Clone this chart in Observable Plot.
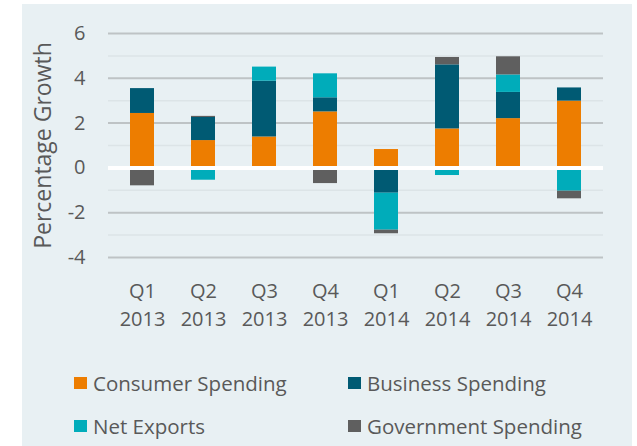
<!DOCTYPE html>
<html>
<head>
<meta charset="utf-8">
<script src="https://cdn.jsdelivr.net/npm/d3@7"></script>
<script src="https://cdn.jsdelivr.net/npm/@observablehq/plot@0.6"></script>
<style>
  body { margin: 0; background: #ffffff; font-family: "Open Sans", sans-serif; }
  #wrap { position: relative; width: 637px; height: 446px; overflow: hidden; }
  #panel { position: absolute; left: 22px; top: 4px; width: 610px; height: 442px; background: #e8f0f3; }
  #chart { position: absolute; left: 0; top: 0; }
  .leg { position: absolute; font-size: 20.5px; color: #595959; display: flex; align-items: center; white-space: nowrap; }
  .sw { width: 12.5px; height: 12.5px; margin-right: 6.5px; display: inline-block; }
</style>
</head>
<body>
<div id="wrap">
  <div id="panel"></div>
  <div id="chart"></div>
</div>
<script>
const quarters = ["Q1 2013","Q2 2013","Q3 2013","Q4 2013","Q1 2014","Q2 2014","Q3 2014","Q4 2014"];
const seriesNames = ["Consumer Spending","Business Spending","Net Exports","Government Spending"];
const seriesColors = ["#ed7d00","#005a73","#00acba","#5f5f5f"];
const consumer   = [2.43, 1.22, 1.38, 2.50, 0.82, 1.74, 2.20, 2.98];
const business   = [1.11, 1.03, 2.49, 0.63, -1.13, 2.86, 1.17, 0.59];
const netExports = [0.00, -0.55, 0.63, 1.07, -1.65, -0.34, 0.78, -1.04];
const government = [-0.80, 0.05, 0.00, -0.70, -0.16, 0.33, 0.81, -0.34];
const majorTicks = [-4, -2, 0, 2, 4, 6];
const minorTicks = [-3, -1, 1, 3, 5];

const seriesValues = [consumer, business, netExports, government];
const data = [];
seriesNames.forEach((s, i) => quarters.forEach((q, j) => data.push({quarter: q, series: s, value: seriesValues[i][j]})));

const textColor = "#595959";
const plot = Plot.plot({
  width: 637,
  height: 350,
  marginLeft: 108,
  marginRight: 34,
  marginTop: 33,
  marginBottom: 93,
  style: {background: "transparent", fontFamily: "Open Sans, sans-serif", fontSize: "20px", color: textColor},
  x: {domain: quarters, paddingInner: 0.6, paddingOuter: 0.3, axis: null},
  y: {domain: [-4, 6], axis: null},
  color: {domain: seriesNames, range: seriesColors},
  marks: [
    Plot.ruleY(minorTicks, {stroke: "#dce4e7", strokeWidth: 1.5}),
    Plot.ruleY(majorTicks, {stroke: "#bec3c5", strokeWidth: 2}),
    Plot.barY(data, Plot.stackY({x: "quarter", y: "value", fill: "series", order: seriesNames})),
    Plot.ruleY([0], {stroke: "#ffffff", strokeWidth: 4}),
    Plot.axisY(majorTicks, {tickSize: 0, tickPadding: 23, fontSize: 20, fill: textColor, label: null, tickFormat: d => String(d)}),
    Plot.axisX({tickSize: 0, tickPadding: 26, fontSize: 20, fill: textColor, label: null, tickFormat: d => d.split(" ")[0]}),
    Plot.axisX({tickSize: 0, tickPadding: 54, fontSize: 20, fill: textColor, label: null, tickFormat: d => d.split(" ")[1]}),
    Plot.text(["Percentage Growth"], {frameAnchor: "left", dx: -65, rotate: -90, fontSize: 23, fill: textColor, textAnchor: "middle"})
  ]
});
document.getElementById("chart").appendChild(plot);

const legendPos = [[74, 383], [348, 383], [74, 426], [348, 426]];
const wrap = document.getElementById("wrap");
seriesNames.forEach((s, i) => {
  const d = document.createElement("div");
  d.className = "leg";
  d.style.left = legendPos[i][0] + "px";
  d.style.top = (legendPos[i][1] - 14) + "px";
  d.style.height = "28px";
  const sw = document.createElement("span");
  sw.className = "sw";
  sw.style.background = seriesColors[i];
  d.appendChild(sw);
  d.appendChild(document.createTextNode(s));
  wrap.appendChild(d);
});
</script>
</body>
</html>
